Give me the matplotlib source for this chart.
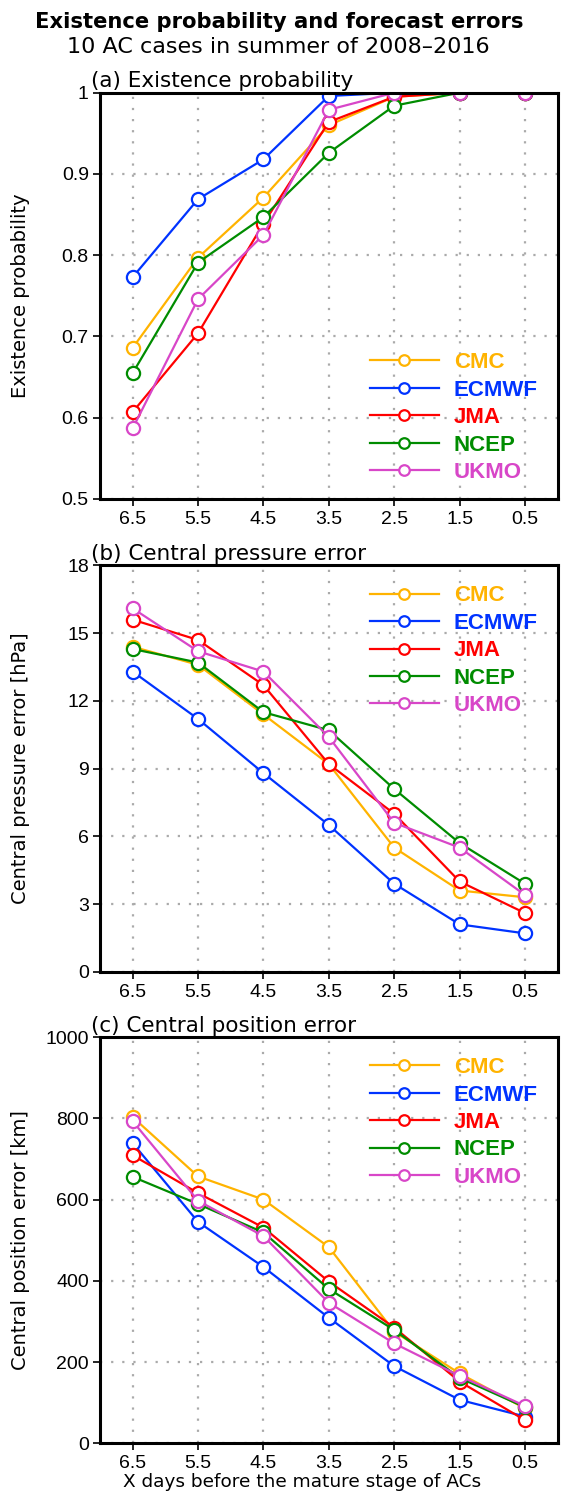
import numpy as np
import matplotlib
matplotlib.use("Agg")
import matplotlib.pyplot as plt

# lead time (days before mature stage)
days = [6.5, 5.5, 4.5, 3.5, 2.5, 1.5, 0.5]
models = ["CMC", "ECMWF", "JMA", "NCEP", "UKMO"]
colors = ["#FFB300", "#0033FF", "#FF0000", "#008C00", "#D846C8"]

# (a) existence probability
prob_cmc = [0.686, 0.797, 0.871, 0.960, 0.995, 1.0, 1.0]
prob_ecmwf = [0.773, 0.869, 0.918, 0.996, 1.0, 1.0, 1.0]
prob_jma = [0.607, 0.704, 0.839, 0.964, 0.995, 1.0, 1.0]
prob_ncep = [0.655, 0.791, 0.847, 0.926, 0.984, 1.0, 1.0]
prob_ukmo = [0.587, 0.746, 0.825, 0.979, 1.0, 1.0, 1.0]

# (b) central pressure error [hPa]
pres_cmc = [14.4, 13.6, 11.4, 9.2, 5.5, 3.6, 3.3]
pres_ecmwf = [13.3, 11.2, 8.8, 6.5, 3.9, 2.1, 1.7]
pres_jma = [15.6, 14.7, 12.7, 9.2, 7.0, 4.0, 2.6]
pres_ncep = [14.3, 13.7, 11.5, 10.7, 8.1, 5.7, 3.9]
pres_ukmo = [16.1, 14.2, 13.3, 10.4, 6.6, 5.5, 3.4]

# (c) central position error [km]
pos_cmc = [803, 657, 600, 483, 275, 172, 86]
pos_ecmwf = [739, 545, 434, 309, 190, 107, 66]
pos_jma = [709, 616, 531, 398, 285, 152, 57]
pos_ncep = [656, 589, 519, 380, 279, 161, 89]
pos_ukmo = [793, 597, 510, 346, 246, 166, 92]

panels = [
    ("(a) Existence probability", "Existence probability",
     [prob_cmc, prob_ecmwf, prob_jma, prob_ncep, prob_ukmo],
     (0.5, 1.0), [0.5, 0.6, 0.7, 0.8, 0.9, 1.0], ["0.5", "0.6", "0.7", "0.8", "0.9", "1"],
     "lower right"),
    ("(b) Central pressure error", "Central pressure error [hPa]",
     [pres_cmc, pres_ecmwf, pres_jma, pres_ncep, pres_ukmo],
     (0, 18), [0, 3, 6, 9, 12, 15, 18], None, "upper right"),
    ("(c) Central position error", "Central position error [km]",
     [pos_cmc, pos_ecmwf, pos_jma, pos_ncep, pos_ukmo],
     (0, 1000), [0, 200, 400, 600, 800, 1000], None, "upper right"),
]

fig = plt.figure(figsize=(5.69, 14.98), dpi=100)
bottoms = [0.6669, 0.3513, 0.0365]
tickfont = "Liberation Sans"

for (title, ylab, series, ylim, yt, ytl, lloc), b in zip(panels, bottoms):
    ax = fig.add_axes([0.1757, b, 0.8044, 0.2712])
    for vals, name, c in zip(series, models, colors):
        ax.plot(days, vals, color=c, lw=1.6, marker="o", ms=9.5,
                mfc="white", mec=c, mew=1.6, label=name)
    ax.set_xlim(7, 0)
    ax.set_ylim(*ylim)
    ax.set_xticks(days)
    ax.set_xticklabels([str(d) for d in days], family=tickfont, fontsize=14)
    ax.set_yticks(yt)
    if ytl is not None:
        ax.set_yticklabels(ytl)
    for t in ax.get_yticklabels():
        t.set_family(tickfont)
        t.set_fontsize(14)
    ax.tick_params(direction="out", length=5, width=1.2, pad=3)
    ax.tick_params(axis="x", pad=3.5)
    ax.grid(True, color="#aaaaaa", ls=(0, (1, 4)), lw=1.6)
    for s in ax.spines.values():
        s.set_linewidth(2.2)
    ax.set_ylabel(ylab, fontsize=14)
    ax.yaxis.set_label_coords(-0.152, 0.5)
    ax.set_title(title, loc="left", fontsize=15.5, x=-0.02, pad=4)
    if lloc == "lower right":
        anchor = (1.0, -0.01)
    else:
        anchor = (1.0, 1.0)
    leg = ax.legend(loc=lloc, bbox_to_anchor=anchor, frameon=False,
                    handlelength=3.1, labelspacing=0.29, handletextpad=0.68,
                    markerscale=0.8, labelcolor="linecolor",
                    prop={"family": tickfont, "size": 16, "weight": "bold"})
    if b == bottoms[-1]:
        ax.set_xlabel("X days before the mature stage of ACs", fontsize=13.3)
        ax.xaxis.set_label_coords(0.441, -0.074)

fig.text(0.49, 0.985, "Existence probability and forecast errors",
         ha="center", va="center", fontsize=15.2, fontweight="bold")
fig.text(0.49, 0.9685, "10 AC cases in summer of 2008\u20132016",
         ha="center", va="center", fontsize=16)

fig.savefig("out.png", dpi=100)
